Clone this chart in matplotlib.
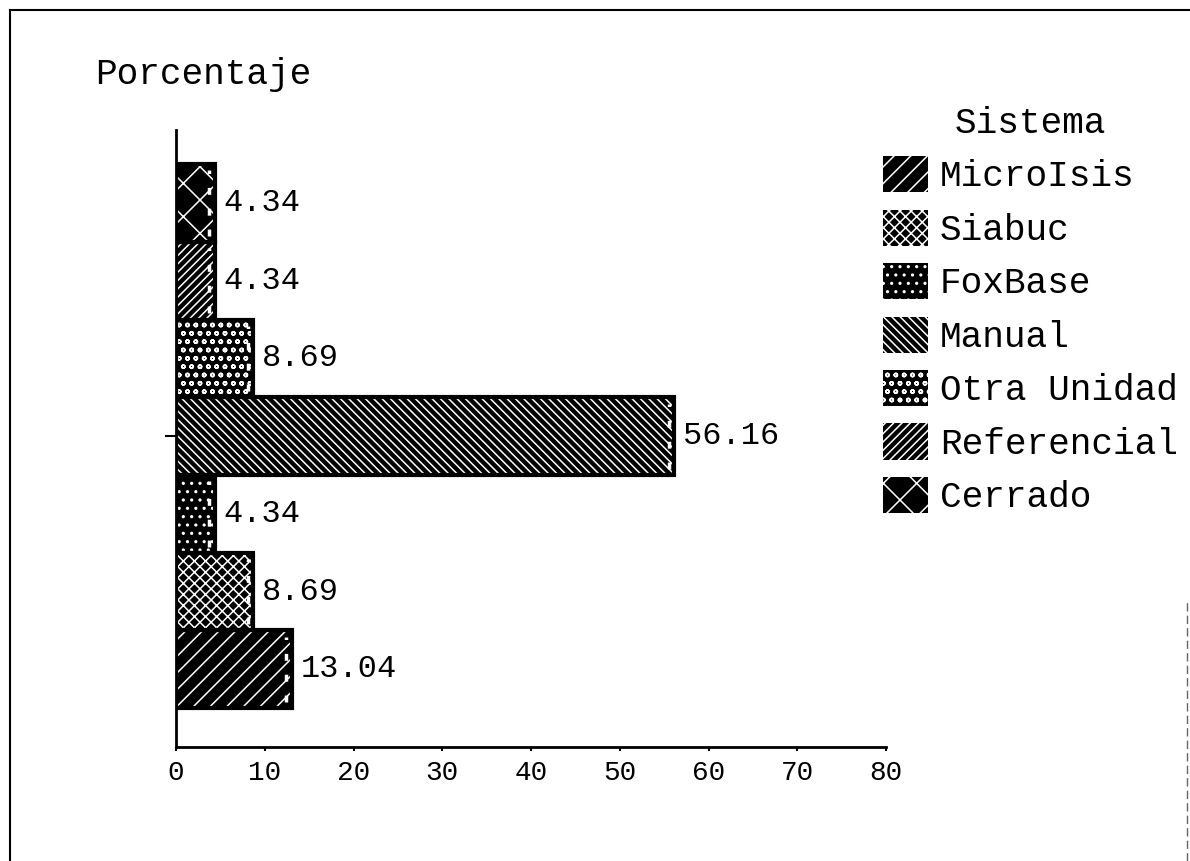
#!/usr/bin/env python3
"""
Porcentaje por sistema - barras horizontales con tramas blancas sobre negro.
"""

import matplotlib
matplotlib.use("Agg")
import matplotlib.pyplot as plt
from matplotlib.patches import Patch
from matplotlib.lines import Line2D

# ============================================================================
# DATA
# ============================================================================
sistemas = ["MicroIsis", "Siabuc", "FoxBase", "Manual",
            "Otra Unidad", "Referencial", "Cerrado"]
porcentajes = [13.04, 8.69, 4.34, 56.16, 8.69, 4.34, 4.34]
tramas = ["//", "xxx", "..", "\\\\\\\\", "oo", "////", "x"]
x_ticks = [0, 10, 20, 30, 40, 50, 60, 70, 80]

FONT = "Liberation Mono"
plt.rcParams["font.family"] = [FONT, "DejaVu Sans Mono"]
plt.rcParams["hatch.linewidth"] = 1.1

fig = plt.figure(figsize=(11.9, 8.61), dpi=100)
ax = fig.add_axes([176 / 1190, 1 - 747 / 861, 710 / 1190, 617 / 861])

pos = list(range(len(sistemas)))

# relleno negro con trama blanca
ax.barh(pos, porcentajes, height=1.0, color="black", edgecolor="white",
        linewidth=0, hatch=tramas, zorder=2)
# contorno negro
ax.barh(pos, porcentajes, height=1.0, fill=False, edgecolor="black",
        linewidth=3, zorder=3)
# borde derecho punteado blanco
ax.vlines([v - 0.6 for v in porcentajes], [p - 0.42 for p in pos],
          [p + 0.42 for p in pos], colors="white", linewidth=2.5,
          linestyles=(0, (2, 4)), zorder=4)

for p, v in zip(pos, porcentajes):
    ax.text(v + 1.0, p, f"{v:.2f}", ha="left", va="center",
            fontsize=23, family=FONT, zorder=5)

ax.set_xlim(0, 80)
ax.set_ylim(-1.0, 6.94)
ax.set_xticks(x_ticks)
ax.set_xticklabels([str(t) for t in x_ticks], fontsize=20, family=FONT)
ax.set_yticks([3])
ax.set_yticklabels([""])
ax.tick_params(axis="y", length=8, width=1.5, direction="out")
ax.tick_params(axis="x", length=3, width=1.5, direction="out", pad=6)
for s in ("top", "right"):
    ax.spines[s].set_visible(False)
for s in ("left", "bottom"):
    ax.spines[s].set_linewidth(2)

fig.text(95 / 1190, 1 - 75 / 861, "Porcentaje", ha="left", va="center",
         fontsize=26, family=FONT)

handles = [Patch(facecolor="black", edgecolor="white", linewidth=0, hatch=h)
           for h in tramas]
fs = 26
em = fs * 100 / 72
leg = fig.legend(handles, sistemas, title="Sistema", loc="upper left",
                 bbox_to_anchor=(883 / 1190, 1 - 106 / 861),
                 frameon=False, borderpad=0, borderaxespad=0,
                 fontsize=fs, title_fontsize=fs,
                 handlelength=45 / em, handleheight=42 / em,
                 handletextpad=12 / em, labelspacing=0.42)
for t in leg.get_texts():
    t.set_family(FONT)
leg.get_title().set_family(FONT)

# marco exterior
frame_kw = dict(transform=fig.transFigure, color="black", linewidth=1.5)
fig.add_artist(Line2D([10 / 1190, 10 / 1190], [0, 1 - 10 / 861], **frame_kw))
fig.add_artist(Line2D([10 / 1190, 1], [1 - 10 / 861, 1 - 10 / 861], **frame_kw))
fig.add_artist(Line2D([1187 / 1190, 1187 / 1190], [0, 1 - 600 / 861],
                      transform=fig.transFigure, color="0.4", linewidth=1,
                      linestyle=(0, (6, 3))))

fig.savefig("out.png", dpi=100, facecolor="white")
print("saved out.png")
